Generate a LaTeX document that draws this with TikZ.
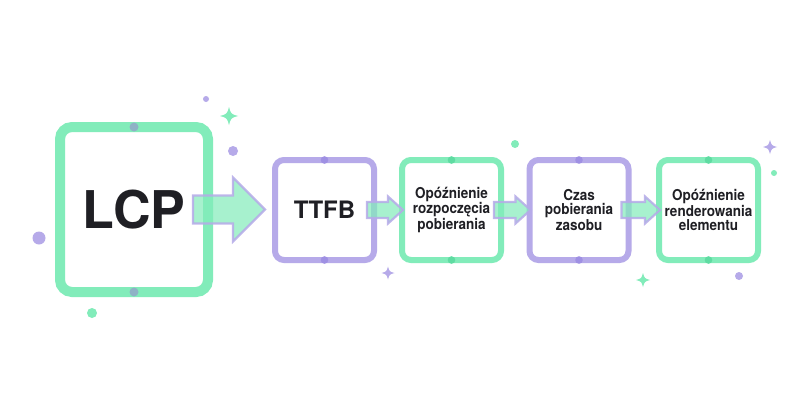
\documentclass[tikz,border=0pt]{standalone}
\usepackage{fontspec}
\setmainfont{TeX Gyre Heros}
\newfontfamily\boxfont[FakeStretch=0.9]{TeX Gyre Heros}
\usetikzlibrary{calc}
\definecolor{mint}{HTML}{82ECBA}
\definecolor{lav}{HTML}{B6AAE9}
\definecolor{lavdark}{HTML}{9F90E3}
\definecolor{mintdark}{HTML}{5FDCA2}
\definecolor{bluegray}{HTML}{8FB2C6}
\definecolor{ink}{HTML}{1F1F24}
\newcommand\flowarrow[5]{%
  \draw[flow] let \p1=(#1), \p2=(#2) in
    (\x1,\y1+#3) -- (\x2-#5,\y1+#3) -- (\x2-#5,\y1+#4) -- (\x2,\y1)
    -- (\x2-#5,\y1-#4) -- (\x2-#5,\y1-#3) -- (\x1,\y1-#3) -- cycle;}
\tikzset{
  box/.style={draw, rounded corners=9pt, line width=6pt, fill=white,
    minimum width=99pt, minimum height=100pt, inner sep=0pt, outer sep=0pt,
    align=center, text=ink, font=\boxfont\bfseries\fontsize{15}{14}\selectfont},
  greenbox/.style={box, draw=mint},
  purplebox/.style={box, draw=lav},
  flow/.style={fill=mint, fill opacity=0.7, draw=lav, draw opacity=0.85,
    line width=2.2pt, line join=miter},
  sparkle/.pic={\fill (0,-1) .. controls (0.22,-0.22) .. (1,0)
    .. controls (0.22,0.22) .. (0,1) .. controls (-0.22,0.22) .. (-1,0)
    .. controls (-0.22,-0.22) .. (0,-1) -- cycle;},
}
\begin{document}
\begin{tikzpicture}[x=1pt,y=-1pt]
\useasboundingbox[fill=white] (0,0) rectangle (800,420);

% decorations
\fill[lav] (206,99) circle (3);
\fill[lav] (233,151) circle (5);
\fill[lav] (39,238) circle (6.5);
\fill[mint] (92,313) circle (5);
\fill[mint] (515,144) circle (4);
\fill[mint] (774,173) circle (3);
\fill[lav] (739,276) circle (4);
\pic[mint, scale=9] at (229,116) {sparkle};
\pic[lav, scale=6.5] at (388,273) {sparkle};
\pic[lav, scale=7] at (770,147) {sparkle};
\pic[mint, scale=7] at (643,280) {sparkle};

% boxes
\node[greenbox, line width=10pt, minimum width=148pt, minimum height=165pt,
  rounded corners=12pt, font=\bfseries\fontsize{52}{52}\selectfont] (lcp) at (134,209.5) {LCP};
\node[purplebox, font=\bfseries\fontsize{24}{24}\selectfont] (ttfb) at (324.5,210) {TTFB};
\node[greenbox] (delay) at (451.5,210) {Opóźnienie\\rozpoczęcia\\pobierania};
\node[purplebox] (load) at (579,210) {Czas\\pobierania\\zasobu};
\node[greenbox] (render) at (708.5,210) {Opóźnienie\\renderowania\\elementu};

% dots on boxes
\fill[bluegray] (lcp.north) circle (4.5);
\fill[bluegray] (lcp.south) circle (4.5);
\foreach \b in {ttfb,load}{
  \fill[lavdark] (\b.north) circle (3.8);
  \fill[lavdark] (\b.south) circle (3.8);}
\foreach \b in {delay,render}{
  \fill[mintdark] (\b.north) circle (3.8);
  \fill[mintdark] (\b.south) circle (3.8);}

% arrows
\coordinate (s1) at ($(lcp.east)+(-15,0)$);
\coordinate (e1) at ($(ttfb.west)+(-10,0)$);
\flowarrow{s1}{e1}{14pt}{32pt}{32pt}
\coordinate (s2) at ($(ttfb.east)+(-7,0)$);
\coordinate (e2) at ($(delay.west)+(1,0)$);
\flowarrow{s2}{e2}{8pt}{13.5pt}{15pt}
\coordinate (s3) at ($(delay.east)+(-7,0)$);
\coordinate (e3) at ($(load.west)+(1,0)$);
\flowarrow{s3}{e3}{8pt}{13.5pt}{15pt}
\coordinate (s4) at ($(load.east)+(-7,0)$);
\coordinate (e4) at ($(render.west)+(1,0)$);
\flowarrow{s4}{e4}{8pt}{13.5pt}{15pt}
\end{tikzpicture}
\end{document}
